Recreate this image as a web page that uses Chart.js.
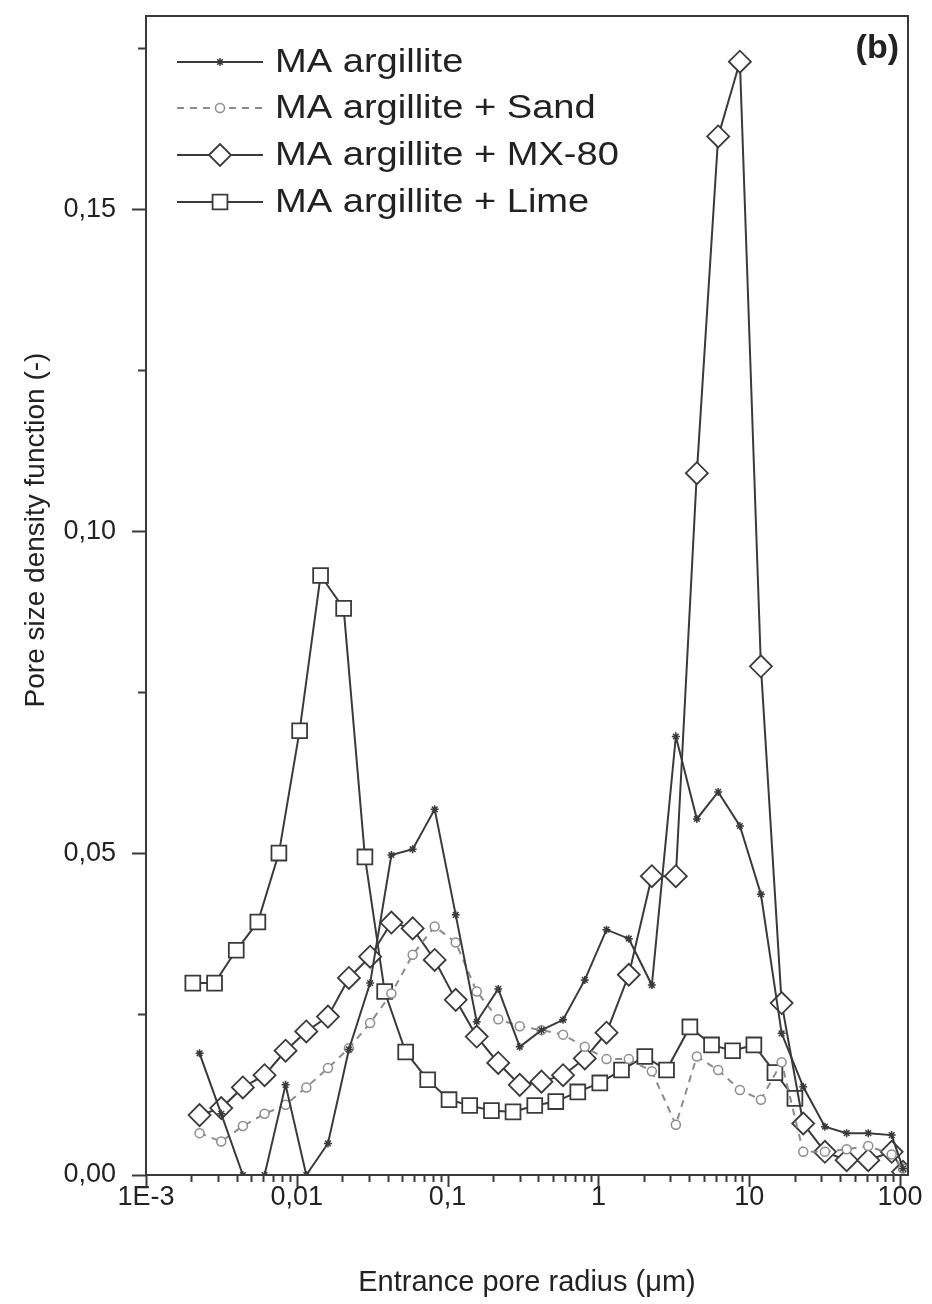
<!DOCTYPE html>
<html><head><meta charset="utf-8">
<script src="https://cdn.jsdelivr.net/npm/chart.js@4.4.0/dist/chart.umd.min.js"></script>
<style>html,body{margin:0;padding:0;background:#fff;}canvas{display:block;}</style>
</head><body>
<canvas id="c" width="932" height="1304"></canvas>
<script>
// ---- data ----
const radiusA = [0.002265, 0.003155, 0.004389, 0.006113, 0.008427, 0.01156, 0.01609, 0.02216, 0.03064, 0.04238, 0.05867, 0.08212, 0.1132, 0.1560, 0.2167, 0.3009, 0.4193, 0.5831, 0.8125, 1.132, 1.591, 2.262, 3.263, 4.496, 6.228, 8.677, 11.96, 16.41, 22.82, 31.78, 44.29, 61.60, 88.08, 104.7];
const radiusLime = [0.002044, 0.002848, 0.003968, 0.005518, 0.007608, 0.01044, 0.01438, 0.02045, 0.02830, 0.03825, 0.05272, 0.07379, 0.1022, 0.1401, 0.1953, 0.2716, 0.3784, 0.5217, 0.7300, 1.022, 1.423, 2.032, 2.830, 4.042, 5.629, 7.759, 10.74, 14.81, 20.10];
const maArgillite = [0.0189, 0.0095, 0.0, 0.0, 0.0140, 0.0, 0.0049, 0.0195, 0.0298, 0.0497, 0.0506, 0.0568, 0.0404, 0.0238, 0.0289, 0.0199, 0.0225, 0.0241, 0.0303, 0.0381, 0.0367, 0.0295, 0.0681, 0.0553, 0.0595, 0.0542, 0.0436, 0.0220, 0.0137, 0.0075, 0.0065, 0.0065, 0.0062, 0.0010];
const maSand = [0.0065, 0.0052, 0.0076, 0.0095, 0.0109, 0.0136, 0.0166, 0.0197, 0.0236, 0.0282, 0.0342, 0.0386, 0.0361, 0.0285, 0.0242, 0.0231, 0.0225, 0.0218, 0.0199, 0.0180, 0.0180, 0.0161, 0.0078, 0.0184, 0.0163, 0.0132, 0.0117, 0.0175, 0.0036, 0.0036, 0.0040, 0.0045, 0.0032, 0.0010];
const maMX80 = [0.0093, 0.0104, 0.0136, 0.0155, 0.0193, 0.0223, 0.0246, 0.0306, 0.0339, 0.0392, 0.0383, 0.0334, 0.0272, 0.0215, 0.0174, 0.0140, 0.0145, 0.0155, 0.0181, 0.0221, 0.0311, 0.0464, 0.0464, 0.1090, 0.1613, 0.1729, 0.0790, 0.0267, 0.0080, 0.0036, 0.0023, 0.0023, 0.0036, 0.0005];
const maLime = [0.0298, 0.0298, 0.0349, 0.0393, 0.0500, 0.0690, 0.0931, 0.0880, 0.0494, 0.0285, 0.0191, 0.0148, 0.0117, 0.0108, 0.0100, 0.0098, 0.0108, 0.0114, 0.0129, 0.0143, 0.0163, 0.0184, 0.0163, 0.0230, 0.0202, 0.0193, 0.0202, 0.0159, 0.0119];
const seriesNames = ['MA argillite', 'MA argillite + Sand', 'MA argillite + MX-80', 'MA argillite + Lime'];
const xTickValues = [0.001, 0.01, 0.1, 1, 10, 100];
const xTickLabels = ['1E-3', '0,01', '0,1', '1', '10', '100'];
const yTickValues = [0, 0.05, 0.10, 0.15];
const yTickLabels = ['0,00', '0,05', '0,10', '0,15'];
const xTitle = 'Entrance pore radius (μm)';
const yTitle = 'Pore size density function (-)';
const panelLabel = '(b)';

// ---- styling ----
const INK = '#3a3a3a';
const GREY = '#8c8c8c';
const FONT = "'Liberation Sans', Arial, sans-serif";
const toXY = (xs, ys) => xs.map((x, i) => ({x: x, y: ys[i]}));

const styles = [
  {borderColor: INK, borderDash: [], pointStyle: 'star', pointRadius: 4, pointBorderWidth: 1.5},
  {borderColor: GREY, borderDash: [7, 6], pointStyle: 'circle', pointRadius: 4.5, pointBorderWidth: 1.5},
  {borderColor: INK, borderDash: [], pointStyle: 'rectRot', pointRadius: 11, pointBorderWidth: 1.8},
  {borderColor: INK, borderDash: [], pointStyle: 'rect', pointRadius: 10.5, pointBorderWidth: 1.8}
];
const seriesData = [toXY(radiusA, maArgillite), toXY(radiusA, maSand), toXY(radiusA, maMX80), toXY(radiusLime, maLime)];

const datasets = seriesData.map((d, i) => ({
  label: seriesNames[i],
  data: d,
  borderColor: styles[i].borderColor,
  borderDash: styles[i].borderDash,
  borderWidth: 2,
  pointStyle: styles[i].pointStyle,
  pointRadius: styles[i].pointRadius,
  pointHoverRadius: styles[i].pointRadius,
  pointBorderColor: styles[i].borderColor,
  pointBackgroundColor: '#ffffff',
  pointBorderWidth: styles[i].pointBorderWidth,
  tension: 0,
  fill: false
}));

const decor = {
  id: 'decor',
  afterDraw(chart) {
    const {ctx, chartArea: a, scales: {x, y}} = chart;
    ctx.save();
    ctx.strokeStyle = INK;
    ctx.lineWidth = 2;
    ctx.setLineDash([]);
    ctx.strokeRect(a.left, a.top, a.right - a.left, a.bottom - a.top);
    ctx.beginPath();
    for (let e = -3; e <= 2; e++) {
      for (let k = 1; k <= 9; k++) {
        const v = k * Math.pow(10, e);
        if (v > x.max) break;
        const px = Math.round(x.getPixelForValue(v)) + 0.5;
        const len = k === 1 ? 12 : 7;
        ctx.moveTo(px, a.bottom);
        ctx.lineTo(px, a.bottom + len);
      }
    }
    for (let j = 0; j <= 7; j++) {
      const v = j * 0.025;
      const py = Math.round(y.getPixelForValue(v)) + 0.5;
      const len = j % 2 === 0 ? 14 : 8;
      ctx.moveTo(a.left, py);
      ctx.lineTo(a.left - len, py);
    }
    ctx.stroke();

    // axis titles
    ctx.fillStyle = '#222';
    ctx.font = '29px ' + FONT;
    ctx.textAlign = 'center';
    ctx.textBaseline = 'middle';
    ctx.fillText(xTitle, (a.left + a.right) / 2, 1283);
    ctx.save();
    ctx.translate(36, 530);
    ctx.rotate(-Math.PI / 2);
    ctx.font = '28px ' + FONT;
    ctx.fillText(yTitle, 0, 0);
    ctx.restore();

    // panel label
    ctx.font = 'bold 34px ' + FONT;
    ctx.textAlign = 'right';
    ctx.fillText(panelLabel, 899, 49);

    // legend
    const rows = [62, 108, 155, 202];
    chart.data.datasets.forEach((ds, i) => {
      const yy = rows[i];
      ctx.beginPath();
      ctx.strokeStyle = ds.borderColor;
      ctx.lineWidth = 2;
      ctx.setLineDash(ds.borderDash || []);
      ctx.moveTo(177, yy);
      ctx.lineTo(263, yy);
      ctx.stroke();
      ctx.setLineDash([]);
      ctx.fillStyle = '#ffffff';
      ctx.strokeStyle = ds.pointBorderColor;
      ctx.lineWidth = ds.pointBorderWidth;
      Chart.helpers.drawPoint(ctx, {pointStyle: ds.pointStyle, radius: ds.pointRadius, rotation: 0, borderWidth: ds.pointBorderWidth}, 220, yy);
      ctx.save();
      ctx.fillStyle = '#222';
      ctx.font = '34px ' + FONT;
      ctx.textAlign = 'left';
      ctx.textBaseline = 'middle';
      ctx.translate(275, yy + 1);
      ctx.scale(1.12, 1);
      ctx.fillText(ds.label, 0, 0);
      ctx.restore();
    });
    ctx.restore();
  }
};

new Chart(document.getElementById('c'), {
  type: 'line',
  data: {datasets: datasets},
  options: {
    responsive: false,
    animation: false,
    devicePixelRatio: 1,
    layout: {padding: {left: 0, right: 24, top: 16, bottom: 0}},
    plugins: {legend: {display: false}, tooltip: {enabled: false}},
    scales: {
      x: {
        type: 'logarithmic', position: 'bottom', min: 0.001, max: 113,
        grid: {display: false, drawTicks: false},
        border: {display: true, color: INK, width: 2},
        ticks: {font: {family: FONT, size: 27}, color: '#222', padding: 6, maxRotation: 0, autoSkip: false,
          callback: (v, i) => xTickLabels[i]},
        afterBuildTicks: s => { s.ticks = xTickValues.map(v => ({value: v})); },
        afterFit: s => { s.height = 1304 - 1175; s.paddingLeft = 0; s.paddingRight = 0; }
      },
      y: {
        type: 'linear', position: 'left', min: 0, max: 0.18,
        grid: {display: false, drawTicks: false},
        border: {display: true, color: INK, width: 2},
        ticks: {font: {family: FONT, size: 27}, color: '#222', padding: 30,
          callback: (v, i) => yTickLabels[i]},
        afterBuildTicks: s => { s.ticks = yTickValues.map(v => ({value: v})); },
        afterFit: s => { s.width = 146; s.paddingTop = 0; s.paddingBottom = 0; }
      }
    }
  },
  plugins: [decor]
});
</script>
</body></html>
